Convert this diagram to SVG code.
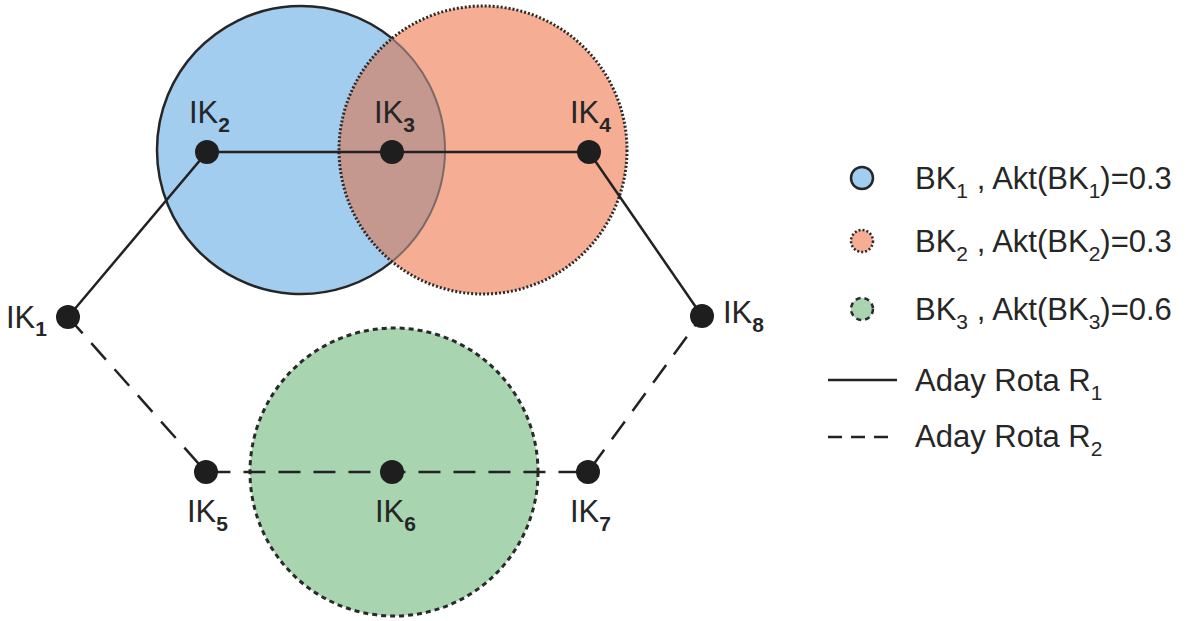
<svg xmlns="http://www.w3.org/2000/svg" width="1192" height="621" viewBox="0 0 1192 621">
  <style>
    .lbl { font-family: "Liberation Sans", Arial, sans-serif; font-size: 31px; fill: #262626; }
    .sub { font-size: 21px; font-weight: bold; }
    .leg { font-family: "Liberation Sans", Arial, sans-serif; font-size: 31px; fill: #262626; }
    .lsub { font-size: 21px; }
    .route1 { fill: none; stroke: #222; stroke-width: 2.5; }
    .route2 { fill: none; stroke: #222; stroke-width: 2.5; stroke-dasharray: 22 13; }
    .node { fill: #1e1e1e; }
  </style>

  <rect width="1192" height="621" fill="#ffffff"/>

  <!-- coverage areas -->
  <g id="bk1">
    <circle cx="301" cy="150" r="144" fill="#a3cdef"/>
  </g>
  <g id="bk2">
    <circle cx="483" cy="150" r="144" fill="#f5ae94"/>
    <!-- overlap of BK1 and BK2 -->
    <path d="M392,38.4 A144,144 0 0 1 392,261.6 A144,144 0 0 1 392,38.4 Z" fill="#c4988e"/>
  </g>
  <g id="bk1-outline">
    <path d="M392,38.4 A144,144 0 1 0 392,261.6" fill="none" stroke="#262626" stroke-width="2.5"/>
    <path d="M392,38.4 A144,144 0 0 1 392,261.6" fill="none" stroke="#7d6a66" stroke-width="2"/>
  </g>
  <g id="bk2-outline">
    <circle cx="483" cy="150" r="144" fill="none" stroke="#2a2a2a" stroke-width="3" stroke-dasharray="2 2"/>
  </g>
  <g id="bk3">
    <circle cx="394" cy="472" r="144" fill="#a8d5b0" stroke="#2a2a2a" stroke-width="3" stroke-dasharray="5 4"/>
  </g>

  <!-- candidate routes -->
  <g id="connectors">
    <polyline class="route1" points="68,317 207,152 392,152 589,152 702,316"/>
    <polyline class="route2" points="68,317 206,472 392,472 588,472 702,316"/>
  </g>

  <!-- intersections -->
  <g id="ik1"><circle class="node" cx="68" cy="317" r="12"/><text class="lbl" x="6" y="328">IK<tspan class="sub" dy="8">1</tspan></text></g>
  <g id="ik2"><circle class="node" cx="207" cy="152" r="12"/><text class="lbl" x="189" y="123">IK<tspan class="sub" dy="9">2</tspan></text></g>
  <g id="ik3"><circle class="node" cx="392" cy="152" r="12"/><text class="lbl" x="374" y="123">IK<tspan class="sub" dy="9">3</tspan></text></g>
  <g id="ik4"><circle class="node" cx="589" cy="152" r="12"/><text class="lbl" x="570" y="123">IK<tspan class="sub" dy="9">4</tspan></text></g>
  <g id="ik5"><circle class="node" cx="206" cy="472" r="12"/><text class="lbl" x="187" y="522">IK<tspan class="sub" dy="9">5</tspan></text></g>
  <g id="ik6"><circle class="node" cx="392" cy="472" r="12"/><text class="lbl" x="375" y="522">IK<tspan class="sub" dy="9">6</tspan></text></g>
  <g id="ik7"><circle class="node" cx="588" cy="472" r="12"/><text class="lbl" x="570" y="522">IK<tspan class="sub" dy="9">7</tspan></text></g>
  <g id="ik8"><circle class="node" cx="702" cy="316" r="12"/><text class="lbl" x="723" y="323">IK<tspan class="sub" dy="9">8</tspan></text></g>

  <!-- legend -->
  <g id="legend">
    <circle cx="862" cy="178" r="11" fill="#a3cdef" stroke="#262626" stroke-width="2.5"/>
    <text class="leg" x="915" y="189">BK<tspan class="lsub" dy="9">1</tspan><tspan dy="-9"> , Akt(BK</tspan><tspan class="lsub" dy="9">1</tspan><tspan dy="-9">)=0.3</tspan></text>

    <circle cx="862" cy="241" r="11" fill="#f5ae94" stroke="#2a2a2a" stroke-width="2.5" stroke-dasharray="2 2"/>
    <text class="leg" x="915" y="252">BK<tspan class="lsub" dy="9">2</tspan><tspan dy="-9"> , Akt(BK</tspan><tspan class="lsub" dy="9">2</tspan><tspan dy="-9">)=0.3</tspan></text>

    <circle cx="862" cy="309" r="11" fill="#a8d5b0" stroke="#2a2a2a" stroke-width="2.5" stroke-dasharray="5 4"/>
    <text class="leg" x="915" y="320">BK<tspan class="lsub" dy="9">3</tspan><tspan dy="-9"> , Akt(BK</tspan><tspan class="lsub" dy="9">3</tspan><tspan dy="-9">)=0.6</tspan></text>

    <line x1="828" y1="380" x2="897" y2="380" stroke="#222" stroke-width="2.5"/>
    <text class="leg" x="915" y="391">Aday Rota R<tspan class="lsub" dy="9">1</tspan></text>

    <line x1="828" y1="437" x2="897" y2="437" stroke="#222" stroke-width="2.5" stroke-dasharray="14 9"/>
    <text class="leg" x="915" y="447">Aday Rota R<tspan class="lsub" dy="9">2</tspan></text>
  </g>
</svg>
